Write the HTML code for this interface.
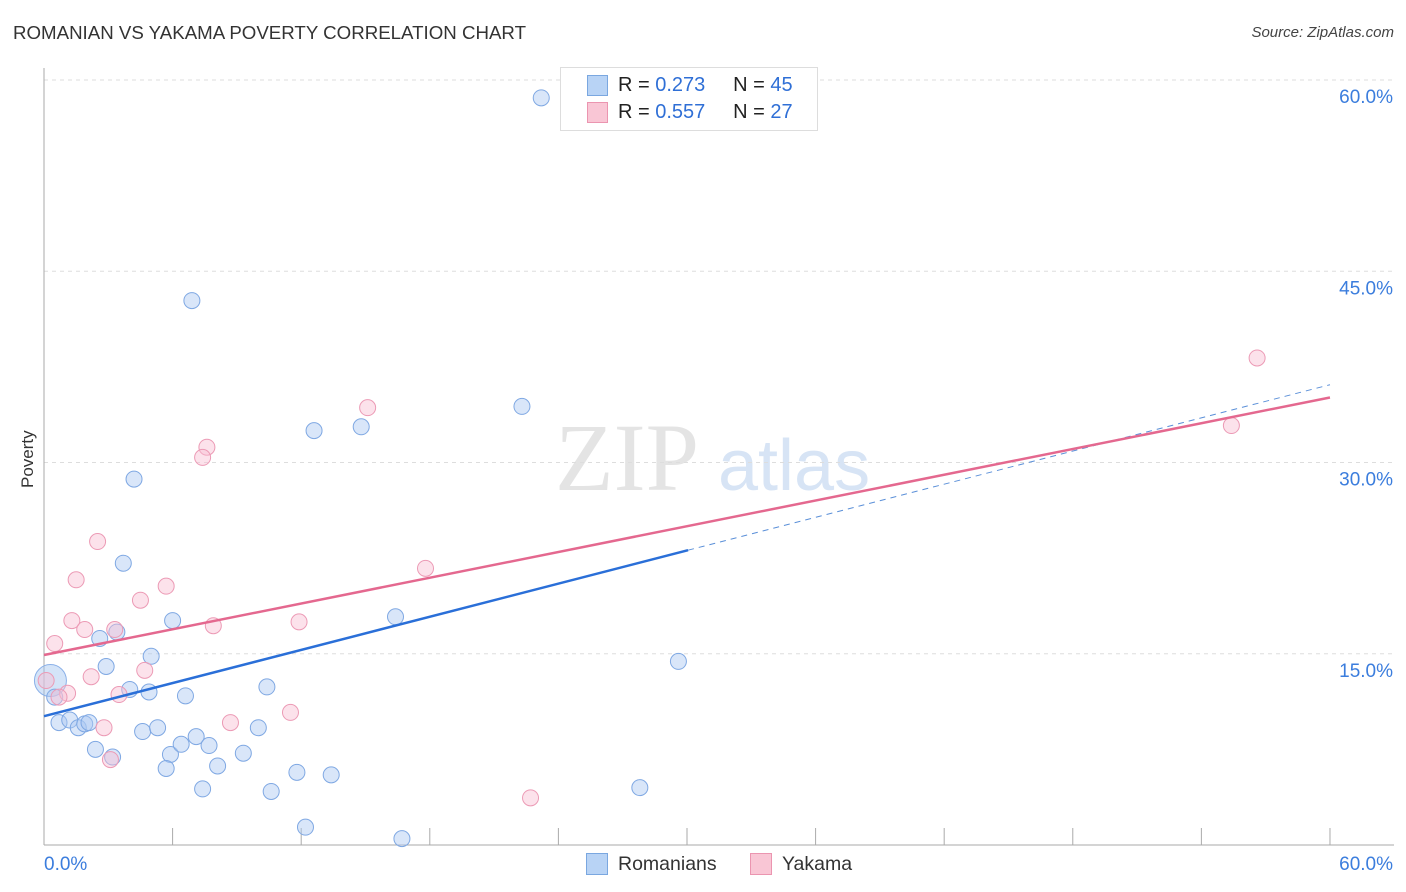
<!DOCTYPE html>
<html><head><meta charset="utf-8"><style>
body{margin:0;background:#fff;font-family:"Liberation Sans",sans-serif;}
#wrap{position:relative;width:1406px;height:892px;overflow:hidden;}
.t{position:absolute;white-space:nowrap;}
</style></head><body>
<div id="wrap">
<div class="t" style="left:13px;top:22px;font-size:18.7px;color:#333;">ROMANIAN VS YAKAMA POVERTY CORRELATION CHART</div>
<div class="t" style="right:12px;top:24px;font-size:15px;color:#444;font-style:italic;">Source: ZipAtlas.com</div>
<div class="t" style="left:18px;top:456px;font-size:17px;color:#333;transform:rotate(-90deg);transform-origin:left top;translate:0 32px;">Poverty</div>
<svg id="plot" width="1406" height="892" style="position:absolute;left:0;top:0;"></svg>
<div class="t" style="left:560px;top:67px;width:256px;height:62px;border:1px solid #ddd;background:#fff;"></div>
<div class="t" style="left:587px;top:75px;width:19px;height:19px;background:#b8d3f5;border:1px solid #7aa7e0;"></div>
<div class="t" style="left:587px;top:102px;width:19px;height:19px;background:#f9c6d5;border:1px solid #eb95b0;"></div>
<div class="t" style="left:618px;top:74px;font-size:20px;color:#222;">R = <span style="color:#2f6fd6">0.273</span>&nbsp;&nbsp;&nbsp;&nbsp;&nbsp;N = <span style="color:#2f6fd6">45</span></div>
<div class="t" style="left:618px;top:101px;font-size:20px;color:#222;">R = <span style="color:#2f6fd6">0.557</span>&nbsp;&nbsp;&nbsp;&nbsp;&nbsp;N = <span style="color:#2f6fd6">27</span></div>
<div class="t" style="left:586px;top:853px;width:20px;height:20px;background:#b8d3f5;border:1px solid #7aa7e0;"></div>
<div class="t" style="left:618px;top:853px;font-size:19.5px;color:#333;">Romanians</div>
<div class="t" style="left:750px;top:853px;width:20px;height:20px;background:#f9c6d5;border:1px solid #eb95b0;"></div>
<div class="t" style="left:782px;top:853px;font-size:19.5px;color:#333;">Yakama</div>
</div>
<script>
const romX=[23.2,6.9,4.2,12.6,14.8,22.3,3.7,16.4,6.0,2.6,3.4,5.0,2.9,29.6,0.3,4.0,4.9,6.6,10.4,0.5,0.7,1.2,1.6,1.9,2.1,4.6,5.3,7.1,10.0,2.4,3.2,5.9,6.4,7.7,9.3,5.7,8.1,11.8,13.4,7.4,10.6,27.8,12.2,16.7];
const romY=[58.6,42.7,28.7,32.5,32.8,34.4,22.1,17.9,17.6,16.2,16.7,14.8,14.0,14.4,12.9,12.2,12.0,11.7,12.4,11.6,9.6,9.8,9.2,9.5,9.6,8.9,9.2,8.5,9.2,7.5,6.9,7.1,7.9,7.8,7.2,6.0,6.2,5.7,5.5,4.4,4.2,4.5,1.4,0.5];
const yakX=[56.6,55.4,15.1,7.6,7.4,2.5,1.5,5.7,17.8,4.5,1.3,1.9,3.3,7.9,11.9,0.5,4.7,2.2,0.1,1.1,0.7,3.5,8.7,11.5,2.8,3.1,22.7];
const yakY=[38.2,32.9,34.3,31.2,30.4,23.8,20.8,20.3,21.7,19.2,17.6,16.9,16.9,17.2,17.5,15.8,13.7,13.2,12.9,11.9,11.6,11.8,9.6,10.4,9.2,6.7,3.7];
const yTicks=[15,30,45,60];
const xTickVals=[0,6,12,18,24,30,36,42,48,54,60];
const romTrend=[10.1,36.1];
const yakTrend=[14.9,35.1];
const romSolidEnd=30.05;
const sx=v=>44+v*21.433, sy=v=>845-v*12.75;
const svg=document.getElementById('plot');
const NS='http://www.w3.org/2000/svg';
function mk(tag,a){const e=document.createElementNS(NS,tag);for(const k in a)e.setAttribute(k,a[k]);svg.appendChild(e);return e;}
const wm=mk('text',{x:555,y:490,'font-size':96,fill:'#e4e4e4','font-family':'Liberation Serif,serif'});wm.textContent='ZIP';


const wm2=mk('text',{x:718,y:490,'font-size':72,fill:'#d7e4f5','font-family':'Liberation Sans,sans-serif'});wm2.textContent='atlas';


yTicks.forEach(v=>{
 const g=mk('line',{x1:44,x2:1394,y1:sy(v),y2:sy(v),stroke:'#ddd','stroke-dasharray':'4,4'});
 
 
 const t=mk('text',{x:1393,y:sy(v)+23,'text-anchor':'end','font-size':19,fill:'#3b7ddd'});t.textContent=v.toFixed(1)+'%';
 
 
});
const ax=mk('line',{x1:44,x2:44,y1:68,y2:845,stroke:'#aaa'});


const bx=mk('line',{x1:44,x2:1394,y1:845,y2:845,stroke:'#aaa'});


xTickVals.forEach(v=>{
 const l=mk('line',{x1:sx(v),x2:sx(v),y1:828,y2:845,stroke:'#aaa'});
 
 
});
[[0,'start',44],[60,'end',1393]].forEach(([v,a,x])=>{
 const t=mk('text',{x:x,y:870,'text-anchor':a,'font-size':19,fill:'#3b7ddd'});t.textContent=v.toFixed(1)+'%';
 
 
});
const big=mk('circle',{cx:sx(romX[14]),cy:sy(romY[14]),r:16,fill:'rgba(160,195,240,0.45)',stroke:'#8ab0e8'});


romX.forEach((x,i)=>{if(i===14)return;
 const c=mk('circle',{cx:sx(x),cy:sy(romY[i]),r:8,fill:'rgba(170,200,242,0.45)',stroke:'#7fa8e3','stroke-width':1});
 
 
});
yakX.forEach((x,i)=>{
 const c=mk('circle',{cx:sx(x),cy:sy(yakY[i]),r:8,fill:'rgba(248,190,210,0.45)',stroke:'#ec9ab5','stroke-width':1});
 
 
});
const rs=romTrend[0]+(romTrend[1]-romTrend[0])*romSolidEnd/60;
const l1=mk('line',{x1:sx(0),y1:sy(romTrend[0]),x2:sx(romSolidEnd),y2:sy(rs),stroke:'#2a6fd8','stroke-width':2.5});


const l2=mk('line',{x1:sx(romSolidEnd),y1:sy(rs),x2:sx(60),y2:sy(romTrend[1]),stroke:'#5a8fd8','stroke-width':1,'stroke-dasharray':'6,5'});


const l3=mk('line',{x1:sx(0),y1:sy(yakTrend[0]),x2:sx(60),y2:sy(yakTrend[1]),stroke:'#e4688f','stroke-width':2.5});


</script>
</body></html>
